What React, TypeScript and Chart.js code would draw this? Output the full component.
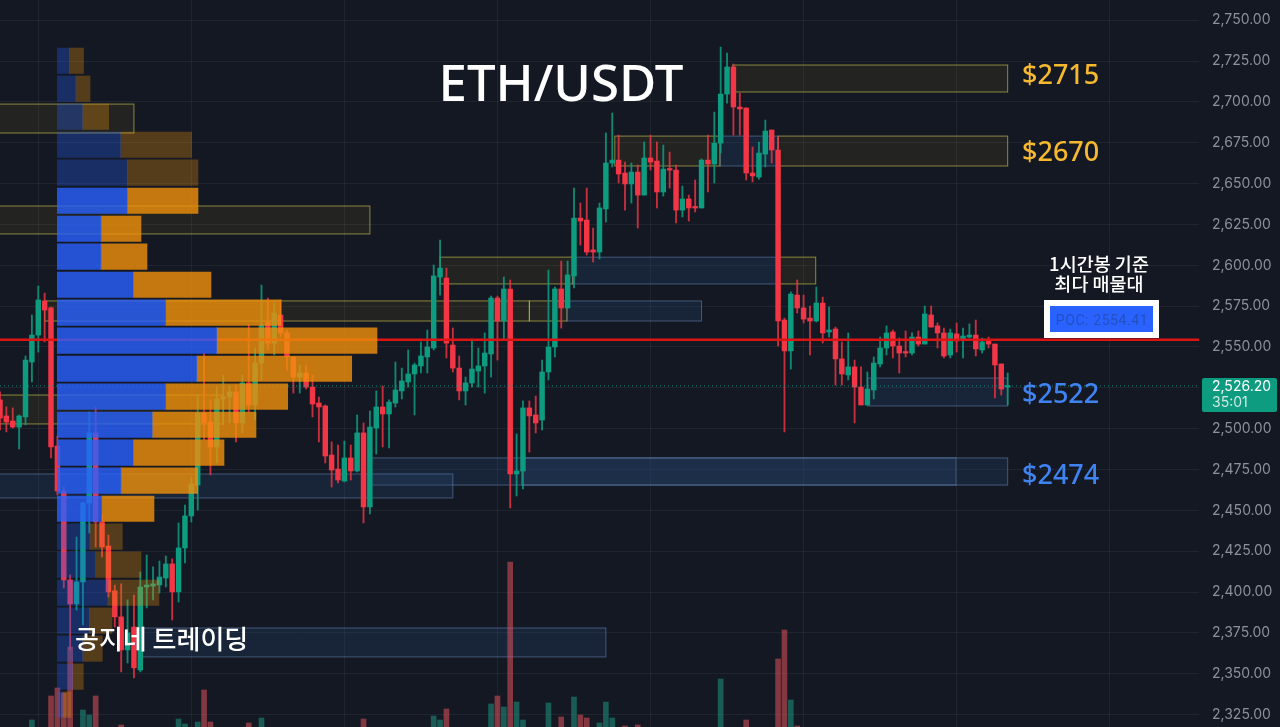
import { useEffect, useRef } from 'react';
import { Chart, registerables } from 'chart.js';

Chart.register(...registerables);

const opens = [2517.6,2507.8,2504.7,2501,2507.2,2540.8,2557.3,2578.2,2573.9,2489.4,2461.9,2407.4,2392.7,2406.2,2454.5,2497.4,2442.9,2428.2,2400.7,2384.8,2364.6,2378.6,2352.3,2403.1,2403.7,2404.3,2408.6,2417.2,2400.1,2427,2446.6,2465.5,2509.6,2504.1,2488.8,2518.2,2519.4,2522.5,2503.5,2528,2514.5,2540.2,2565.3,2552.4,2569.6,2558.6,2543.9,2531.6,2534.1,2525.5,2515.7,2513.9,2483.9,2475.3,2468,2482.1,2474.1,2497.4,2452.1,2500.4,2513.3,2509,2515.7,2523.1,2528.6,2533.5,2538.4,2543.9,2549.4,2592.8,2592.2,2551.2,2537.1,2523.1,2528,2535.3,2538.4,2545.7,2580,2565.9,2585.5,2472.3,2474.1,2512.7,2508.4,2505.3,2534.7,2550,2585.5,2573.9,2593.5,2628.9,2627.7,2609.4,2608.1,2634.5,2662.6,2664.4,2656.5,2649.8,2657.1,2643,2665.7,2663.8,2644.9,2658.9,2658.3,2633.8,2640.6,2635.7,2635.1,2664.4,2662,2674.8,2704.8,2721.4,2696.9,2696.3,2656.5,2654,2668.1,2682.8,2670.6,2566.5,2547.6,2581.8,2573.9,2567.7,2565.9,2576.9,2559.2,2561,2542.7,2532.9,2537.8,2525.5,2514.5,2523.7,2539.6,2549.4,2559.2,2550.6,2546.9,2546.3,2556.1,2551.8,2569.6,2562.9,2558.6,2545.1,2558,2554.9,2556.1,2557.3,2548.2,2554.3,2551.8,2539.6,2525.5];
const highs = [2522.5,2513.3,2512.7,2508.4,2544.5,2569.6,2587.3,2583,2574.5,2495.5,2464.3,2410.5,2433.7,2455.1,2510.2,2513.3,2447.2,2434.9,2404.3,2405,2395.2,2398.2,2412.3,2422.7,2415.4,2419,2422.1,2420.3,2442.3,2453.3,2470.4,2520.6,2546.3,2517.6,2525.5,2532.9,2526.1,2526.7,2532.9,2563.5,2549.4,2587.9,2580,2576.9,2578.8,2560.4,2543.9,2539,2539,2532.9,2519.4,2514.5,2491.9,2490,2492.5,2490,2508.4,2503.5,2510.8,2523.1,2526.1,2517.6,2540.8,2537.1,2548.2,2540.2,2553.1,2560.4,2600.2,2615.5,2598.3,2561.6,2544.5,2531.6,2554.9,2549.4,2558.6,2581.2,2581.2,2592.8,2591,2496.8,2517,2517,2520,2542,2597.1,2586.7,2602.6,2602.6,2647.3,2638.1,2647.3,2622.8,2638.1,2681,2693.2,2679.7,2663.2,2662.6,2661.4,2675.5,2679.7,2675.5,2673.6,2669.3,2661.4,2648.5,2643,2652.2,2665.1,2679.7,2693.8,2733.6,2729.9,2723.2,2705.4,2696.3,2672.4,2675.5,2688.9,2682.8,2678.5,2567.7,2583.7,2591,2581.8,2575.1,2586.7,2580.6,2574.5,2562.2,2553.1,2558.6,2542,2537.8,2534.7,2543.9,2556.1,2562.9,2560.4,2555.5,2559.8,2558.6,2559.8,2575.1,2575.1,2564.7,2561.6,2561,2564.7,2561.6,2564.1,2566.5,2555.5,2556.1,2551.8,2539.6,2534.1];
const lows = [2499.2,2498,2500.4,2487.6,2502.3,2528.6,2546.9,2553.1,2482.1,2459.4,2402.5,2364.6,2389,2379.9,2436.2,2427.6,2421.5,2397,2378.6,2351.1,2356.6,2347.4,2351.1,2390.3,2395.2,2399.4,2403.1,2382.9,2393.9,2417.8,2442.9,2450.2,2493.1,2471.7,2479,2502.3,2503.5,2491.9,2497.4,2510.2,2505.3,2529.8,2548.2,2545.1,2556.1,2535.9,2521.8,2521.8,2524.3,2507.2,2491.9,2479,2464.3,2466.8,2467.4,2468.6,2473.5,2442.3,2447.8,2484.5,2488.8,2488.2,2513.3,2518.2,2525.5,2508.4,2534.1,2534.1,2548.2,2581.8,2543.3,2534.7,2517.6,2514.5,2525.5,2525.5,2521.8,2531.6,2542,2554.3,2451.5,2458.8,2463.1,2485.7,2497.4,2499.2,2529.8,2543.9,2561.6,2573.9,2586.1,2612.4,2606.3,2602,2603.9,2626.5,2660.2,2650.4,2633.8,2638.1,2622.8,2643,2658.3,2635.1,2642.4,2647.3,2625.9,2629.6,2627.1,2632.6,2635.1,2644.9,2650.4,2668.7,2699.3,2679.7,2679.7,2652.2,2651,2652.8,2660.2,2662.6,2550.6,2498,2536.5,2570.8,2564.7,2545.1,2565.3,2552.4,2556.1,2526.7,2526.7,2529.8,2503.5,2514.5,2514.5,2518.2,2537.8,2545.1,2543.3,2534.1,2543.9,2545.1,2550.6,2551.8,2562.2,2549.4,2543.3,2543.3,2546.9,2543.3,2555.5,2544.5,2546.3,2549.4,2518.8,2520.6,2514.5];
const closes = [2506.5,2504.1,2501,2507.8,2542,2557.3,2578.8,2572.6,2488.8,2461.9,2407.4,2392.7,2406.2,2454.5,2497.4,2442.9,2427.6,2400.1,2384.8,2364.6,2375,2353.6,2403.1,2404.3,2405,2409.2,2417.2,2400.1,2427,2446.6,2466.2,2509.6,2503.5,2488.8,2518.2,2519.4,2522.5,2503.5,2528,2514.5,2540.2,2563.5,2552.4,2570.8,2558.6,2543.9,2531.6,2534.1,2525.5,2515.1,2513.3,2483.3,2474.7,2468.6,2482.1,2474.1,2497.4,2452.1,2501,2513.3,2509,2516.3,2523.7,2529.2,2533.5,2539,2544.5,2550,2593.5,2598.3,2552.4,2537.1,2523.1,2528,2536.5,2538.4,2546.3,2580,2565.9,2585.5,2472.3,2474.1,2512.7,2507.8,2503.5,2534.7,2550,2585.5,2573.9,2594.1,2628.9,2627.1,2608.1,2608.1,2635.1,2662.6,2664.4,2655.9,2649.8,2657.1,2643,2665.7,2663.2,2644.9,2658.9,2658.3,2633.8,2640.6,2635.1,2635.1,2664.4,2662,2674.8,2704.8,2721.4,2696.9,2695.7,2656.5,2654.7,2668.7,2682.2,2670.6,2565.9,2547.6,2582.4,2573.9,2567.1,2565.9,2576.9,2558.6,2560.4,2542.7,2533.5,2537.8,2525.5,2514.5,2524.3,2540.2,2549.4,2558.6,2550.6,2546.3,2546.3,2556.1,2551.8,2570.2,2562.2,2558.6,2544.5,2558.6,2553.7,2556.7,2557.3,2548.8,2553.1,2551.8,2539,2524.3,2526.2];

// volume bars that reach above the bottom edge of the picture
const volumeIndex = [5,8,9,10,11,13,14,15,19,28,29,31,32,33,39,41,57,68,69,70,77,78,79,80,81,82,86,88,90,91,92,94,95,96,98,100,113,117,122,123,124,125];
const volumeValues = [7,31,39,34,80,17,12,31,2,8,3,5,37,5,4,9,8,11,7,18,23,31,20,165,25,7,24,10,30,12,9,4,25,9,1,2,48,7,68,97,27,1];

// volume profile rows, top to bottom
const profilePrices = [2725.2,2708.1,2691,2673.8,2656.7,2639.5,2622.4,2605.3,2588.1,2571,2553.9,2536.7,2519.6,2502.4,2485.3,2468.2,2451,2433.9,2416.8,2399.6,2382.5,2365.4,2348.2,2331.1];
const profileBuy = [12.5,19,25.7,63.7,70.3,70.3,44,44,76.3,108.7,159.7,139.7,108.7,95.3,76.3,64,44.7,33,38.7,51,32.3,25.7,15.7,6];
const profileSell = [14,14,26,71,70.7,70.7,40,46,77.7,115.3,160.3,155,122,103.7,90.7,76.7,52.3,32.3,45.3,51,22.7,19.6,10.6,8];
const valueAreaHigh = 2645;
const valueAreaLow = 2445;

// [from candle, to candle, top price, bottom price]
const supplyZones = [
  [114.9, 158, 2722.6, 2706.1],
  [96.4, 112.9, 2679.1, 2660.8],
  [122, 158, 2679.1, 2660.8],
  [-2, 21, 2698.7, 2681],
  [-2, 58, 2636.3, 2619.2],
  [69, 89.8, 2605, 2588.6],
  [122, 127.9, 2605, 2588.6],
  [7, 83, 2578.2, 2565.9],
  [83, 88.9, 2578.2, 2565.9],
  [-2, 35, 2520.6, 2502.9],
];
const demandZones = [
  [89.8, 122, 2605, 2588.6],
  [88.9, 110, 2578.2, 2565.9],
  [112.9, 122, 2679.1, 2660.8],
  [136, 158, 2531, 2513.9],
  [58, 149.9, 2482.1, 2465.5],
  [81.8, 158, 2482.1, 2465.5],
  [-2, 71, 2472.3, 2457.6],
  [22, 95, 2378, 2360.3],
];

const pocPrice = 2554.41;
const lastPrice = 2526.2;
const priceMin = 2317.4;
const priceMax = 2762.4;
const slotCount = 189;

const UP = '#0e9c80';
const DOWN = '#f23645';
const BG = '#141823';

const zonesPlugin = {
  id: 'zones',
  beforeDatasetsDraw(chart: any) {
    const { ctx, scales } = chart;
    const paint = (zones: number[][], fill: string, stroke: string) => {
      zones.forEach(([a, b, top, bottom]) => {
        const x = scales.x.getPixelForValue(a);
        const y = scales.y.getPixelForValue(top);
        const w = scales.x.getPixelForValue(b) - x;
        const h = scales.y.getPixelForValue(bottom) - y;
        ctx.save();
        ctx.fillStyle = fill;
        ctx.strokeStyle = stroke;
        ctx.lineWidth = 1;
        ctx.fillRect(x, y, w, h);
        ctx.strokeRect(x, y, w, h);
        ctx.restore();
      });
    };
    paint(supplyZones, 'rgba(190,170,30,0.09)', 'rgba(215,205,80,0.6)');
    paint(demandZones, 'rgba(40,80,130,0.22)', 'rgba(120,160,210,0.45)');
  },
};

function Label({ x, y, size, color, children, font = '"Noto Sans"', weight = 400, center = false, spacing = 0 }: any) {
  return (
    <div
      style={{
        position: 'absolute',
        left: x,
        top: y,
        transform: center ? 'translate(-50%, -50%)' : 'translateY(-50%)',
        fontFamily: font,
        fontSize: size,
        fontWeight: weight,
        letterSpacing: spacing,
        color,
        whiteSpace: 'nowrap',
        lineHeight: 1,
      }}
    >
      {children}
    </div>
  );
}

export default function App() {
  const mainRef = useRef<HTMLCanvasElement>(null);
  const profileRef = useRef<HTMLCanvasElement>(null);

  useEffect(() => {
    document.body.style.margin = '0';
    document.body.style.background = BG;

    const labels = Array.from({ length: slotCount }, (_, i) => String(i));
    const isUp = closes.map((c, i) => c >= opens[i]);
    const volumes: (number | null)[] = labels.map(() => null);
    volumeIndex.forEach((idx, i) => {
      volumes[idx] = volumeValues[i];
    });

    const main = new Chart(mainRef.current!, {
      type: 'bar',
      data: {
        labels,
        datasets: [
          {
            type: 'line',
            data: labels.map(() => pocPrice),
            borderColor: '#dd1414',
            borderWidth: 2.5,
            pointRadius: 0,
            yAxisID: 'y',
            order: 1,
          },
          {
            type: 'line',
            data: labels.map(() => lastPrice),
            borderColor: 'rgba(20,160,135,0.8)',
            borderWidth: 1,
            borderDash: [1, 3],
            pointRadius: 0,
            yAxisID: 'y',
            order: 2,
          },
          {
            data: opens.map((o, i) => [Math.min(o, closes[i]), Math.max(o, closes[i])]),
            backgroundColor: isUp.map((u) => (u ? UP : DOWN)),
            barThickness: 4.8,
            minBarLength: 1.5,
            grouped: false,
            yAxisID: 'y',
            order: 3,
          },
          {
            data: lows.map((l, i) => [l, highs[i]]),
            backgroundColor: isUp.map((u) => (u ? 'rgba(14,156,128,0.85)' : 'rgba(242,54,69,0.8)')),
            barThickness: 1.2,
            grouped: false,
            yAxisID: 'y',
            order: 4,
          },
          {
            data: volumes,
            backgroundColor: volumes.map((_, i) => (isUp[i] ? 'rgba(30,160,135,0.5)' : 'rgba(242,85,95,0.5)')),
            barThickness: 5,
            grouped: false,
            yAxisID: 'volume',
            order: 5,
          },
        ],
      } as any,
      options: {
        responsive: false,
        animation: false,
        layout: { padding: 0 },
        plugins: { legend: { display: false }, tooltip: { enabled: false } },
        scales: {
          x: {
            type: 'category',
            offset: false,
            grid: { color: 'rgba(255,255,255,0.055)', offset: false, drawTicks: false },
            border: { display: false },
            ticks: { display: false, autoSkip: false },
            afterBuildTicks: (scale: any) => {
              scale.ticks = scale.ticks.filter((t: any) => (t.value - 6) % 24 === 0);
            },
            afterFit: (scale: any) => {
              scale.height = 0;
            },
          },
          y: {
            position: 'right',
            min: priceMin,
            max: priceMax,
            grid: { color: 'rgba(255,255,255,0.055)', drawTicks: false },
            border: { display: false },
            ticks: {
              stepSize: 25,
              includeBounds: false,
              padding: 13,
              color: '#8d9099',
              font: { family: 'Inter', size: 14 },
              callback: (v: any) => Number(v).toLocaleString('en-US', { minimumFractionDigits: 2 }),
            },
            afterFit: (scale: any) => {
              scale.width = 81;
              scale.paddingTop = 0;
              scale.paddingBottom = 0;
            },
          },
          volume: { display: false, min: 0, max: 727 },
        },
      } as any,
      plugins: [zonesPlugin],
    });

    const isBright = (p: number) => p < valueAreaHigh && p > valueAreaLow;
    const profile = new Chart(profileRef.current!, {
      type: 'bar',
      data: {
        datasets: [
          {
            data: profilePrices.map((p, i) => ({ x: profileBuy[i], y: p })),
            backgroundColor: profilePrices.map((p) => (isBright(p) ? 'rgba(41,98,255,0.8)' : 'rgba(41,98,255,0.3)')),
            barThickness: 25.5,
            grouped: false,
          },
          {
            data: profilePrices.map((p, i) => ({ x: profileSell[i], y: p })),
            backgroundColor: profilePrices.map((p) => (isBright(p) ? 'rgba(240,145,10,0.8)' : 'rgba(240,145,10,0.3)')),
            barThickness: 25.5,
            grouped: false,
          },
        ],
      } as any,
      options: {
        indexAxis: 'y',
        responsive: false,
        animation: false,
        layout: { padding: 0 },
        plugins: { legend: { display: false }, tooltip: { enabled: false } },
        scales: {
          x: { type: 'linear', display: false, stacked: true, min: 0, max: 1223 },
          y: { type: 'linear', display: false, stacked: true, offset: false, min: priceMin, max: priceMax },
        },
      } as any,
    });

    return () => {
      main.destroy();
      profile.destroy();
    };
  }, []);

  return (
    <div style={{ position: 'fixed', left: 0, top: 0, width: 1280, height: 727, overflow: 'hidden', background: BG }}>
      <canvas ref={mainRef} width={1280} height={727} style={{ position: 'absolute', left: 0, top: 0 }} />
      <canvas ref={profileRef} width={1223} height={727} style={{ position: 'absolute', left: 57, top: 0 }} />

      <Label x={561} y={81} size={51} color="#ffffff" weight={500} center>ETH/USDT</Label>
      <Label x={1022} y={73} size={27} color="#f5b82e" weight={500}>$2715</Label>
      <Label x={1022} y={150} size={27} color="#f5b82e" weight={500}>$2670</Label>
      <Label x={1022} y={392} size={27} color="#3f83f0" weight={500}>$2522</Label>
      <Label x={1022} y={473} size={27} color="#3f83f0" weight={500}>$2474</Label>
      <Label x={75} y={638} size={26} color="#ffffff" font='"Noto Sans CJK KR"' weight={500}>공지네 트레이딩</Label>
      <Label x={1099} y={263} size={18.5} color="#ffffff" font='"Noto Sans CJK KR"' weight={500} center>1시간봉 기준</Label>
      <Label x={1099} y={283} size={18.5} color="#ffffff" font='"Noto Sans CJK KR"' weight={500} center>최다 매물대</Label>

      <div style={{ position: 'absolute', left: 1044, top: 300, width: 103, height: 26, border: '6px solid #ffffff', background: '#2962ff', boxSizing: 'content-box' }} />
      <Label x={1102} y={320} size={14} color="#2450c0" font="Roboto" spacing={0.6} center>POC: 2554.41</Label>

      <div style={{ position: 'absolute', left: 1202, top: 378, width: 75, height: 34, background: '#0e9c80', borderRadius: 2 }} />
      <Label x={1212} y={386} size={14} color="#ffffff" font="Inter">2,526.20</Label>
      <Label x={1212} y={402} size={14} color="#cfe9e3" font="Inter">35:01</Label>
    </div>
  );
}
